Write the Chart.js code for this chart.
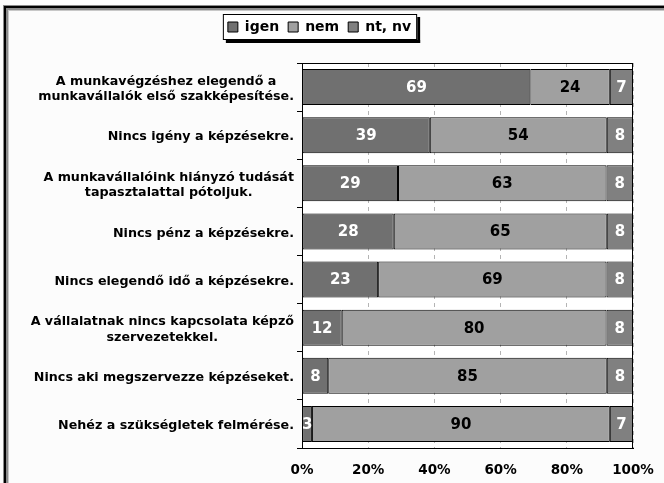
<!DOCTYPE html>
<html>
<head>
<meta charset="utf-8">
<script src="https://cdn.jsdelivr.net/npm/chart.js@4/dist/chart.umd.min.js"></script>
<style>
    body { margin: 0; background: #fcfcfc; }
    canvas { display: block; }
</style>
</head>
<body>
<canvas id="chart" width="664" height="483"></canvas>
<script>
const categories = [
    ['A munkavégzéshez elegendő a', 'munkavállalók első szakképesítése.'],
    ['Nincs igény a képzésekre.'],
    ['A munkavállalóink hiányzó tudását', 'tapasztalattal pótoljuk.'],
    ['Nincs pénz a képzésekre.'],
    ['Nincs elegendő idő a képzésekre.'],
    ['A vállalatnak nincs kapcsolata képző', 'szervezetekkel.'],
    ['Nincs aki megszervezze képzéseket.'],
    ['Nehéz a szükségletek felmérése.']
];
const igen = [69, 39, 29, 28, 23, 12, 8, 3];
const nem = [24, 54, 63, 65, 69, 80, 85, 90];
const ntNv = [7, 8, 8, 8, 8, 8, 8, 7];
const seriesNames = ['igen', 'nem', 'nt, nv'];
const xTickLabels = ['0%', '20%', '40%', '60%', '80%', '100%'];

const FONT = 'DejaVu Sans';

// 100% stacked: every row is scaled to its own total
function toPercent(values) {
    return values.map((v, i) => v / (igen[i] + nem[i] + ntNv[i]) * 100);
}

const rawValues = [igen, nem, ntNv];
const labelColors = ['#ffffff', '#000000', '#ffffff'];

// background, frame, plot area and legend box
const framePlugin = {
    id: 'frame',
    afterLayout(chart) {
        const lg = chart.legend;
        const shiftY = 27 - (lg.top + lg.options.labels.padding + 7);
        lg.top += shiftY;
        lg.bottom += shiftY;
        lg.left += 3;
        lg.right += 3;
    },
    beforeDraw(chart) {
        const ctx = chart.ctx;
        const a = chart.chartArea;
        ctx.save();
        ctx.fillStyle = '#fcfcfc';
        ctx.fillRect(0, 0, chart.width, chart.height);
        // outer frame (top and left only are in view)
        ctx.fillStyle = '#8a8a8a';
        ctx.fillRect(3, 5, chart.width, 5);
        ctx.fillRect(3, 5, 5, chart.height);
        ctx.fillStyle = '#000000';
        ctx.fillRect(4, 6, chart.width, 2);
        ctx.fillRect(4, 6, 2, chart.height);
        ctx.fillStyle = '#c8c8c8';
        ctx.fillRect(8, 10, chart.width, 1);
        ctx.fillRect(8, 10, 1, chart.height);

        ctx.fillStyle = '#ffffff';
        ctx.fillRect(a.left, a.top, a.right - a.left, a.bottom - a.top);

        // legend box
        const lg = chart.legend;
        const p = lg.options.labels.padding;
        const lw = lg.lineWidths[0] - p;
        const x0 = (lg.left + lg.right) / 2 - lw / 2 - 5;
        const x1 = (lg.left + lg.right) / 2 + lw / 2 + 6;
        const yc = lg.top + p + 7;
        const y0 = yc - 13, y1 = yc + 13;
        ctx.fillStyle = '#000000';
        ctx.fillRect(x0 + 3, y1, x1 - x0, 3);
        ctx.fillRect(x1, y0 + 3, 3, y1 - y0);
        ctx.fillStyle = '#ffffff';
        ctx.fillRect(x0, y0, x1 - x0, y1 - y0);
        ctx.strokeStyle = '#000000';
        ctx.lineWidth = 1;
        ctx.strokeRect(x0 + 0.5, y0 + 0.5, x1 - x0 - 1, y1 - y0 - 1);
        ctx.restore();
    },
    afterDatasetsDraw(chart) {
        const ctx = chart.ctx;
        const a = chart.chartArea;
        ctx.save();
        ctx.strokeStyle = '#000000';
        ctx.lineWidth = 1;
        ctx.strokeRect(Math.round(a.left) + 0.5, Math.round(a.top) + 0.5,
            Math.round(a.right - a.left) - 1, Math.round(a.bottom - a.top));

        // value labels
        ctx.font = 'bold 15px ' + FONT;
        ctx.textAlign = 'center';
        ctx.textBaseline = 'middle';
        chart.data.datasets.forEach((ds, d) => {
            const meta = chart.getDatasetMeta(d);
            meta.data.forEach((bar, i) => {
                ctx.fillStyle = labelColors[d];
                ctx.fillText(String(rawValues[d][i]), (bar.x + bar.base) / 2, bar.y + 1);
            });
        });

        // category labels: block right-aligned, lines centred inside it
        const y = chart.scales.y;
        ctx.font = 'bold 12.7px ' + FONT;
        ctx.fillStyle = '#000000';
        const right = a.left - 8;
        categories.forEach((lines, i) => {
            const widths = lines.map(t => ctx.measureText(t).width);
            const blockW = Math.max(...widths);
            const cy = y.getPixelForValue(i) + 2;
            lines.forEach((t, k) => {
                const ly = cy + (k - (lines.length - 1) / 2) * 15.5;
                ctx.fillText(t, right - blockW / 2, ly);
            });
        });
        ctx.restore();
    }
};

const ctx = document.getElementById('chart').getContext('2d');

const chart = new Chart(ctx, {
    type: 'bar',
    data: {
        labels: categories,
        datasets: [
            {
                label: seriesNames[0],
                data: toPercent(igen),
                backgroundColor: '#707070',
                borderColor: '#000000',
                borderWidth: 1,
                borderSkipped: false,
                barPercentage: 0.75,
                categoryPercentage: 1
            },
            {
                label: seriesNames[1],
                data: toPercent(nem),
                backgroundColor: '#a0a0a0',
                borderColor: '#000000',
                borderWidth: 1,
                borderSkipped: false,
                barPercentage: 0.75,
                categoryPercentage: 1
            },
            {
                label: seriesNames[2],
                data: toPercent(ntNv),
                backgroundColor: '#808080',
                borderColor: '#000000',
                borderWidth: 1,
                borderSkipped: false,
                barPercentage: 0.75,
                categoryPercentage: 1
            }
        ]
    },
    options: {
        indexAxis: 'y',
        responsive: false,
        animation: false,
        devicePixelRatio: 1,
        layout: {
            padding: { top: 30, right: 31, bottom: 0, left: 0 }
        },
        plugins: {
            legend: {
                position: 'top',
                labels: {
                    font: { family: FONT, size: 14, weight: 'bold' },
                    color: '#000000',
                    boxWidth: 10,
                    boxHeight: 10,
                    padding: 9
                }
            },
            tooltip: { enabled: false }
        },
        scales: {
            x: {
                stacked: true,
                min: 0,
                max: 100,
                grid: {
                    color: '#b4b4b4',
                    drawTicks: false
                },
                border: { color: '#000000', dash: [4, 4], display: true },
                ticks: {
                    stepSize: 20,
                    padding: 14,
                    color: '#000000',
                    font: { family: FONT, size: 13.5, weight: 'bold' },
                    callback: (v) => xTickLabels[v / 20]
                },
                afterFit: (scale) => {
                    scale.height = 35;
                    scale.paddingRight = 0;
                }
            },
            y: {
                stacked: true,
                grid: {
                    offset: true,
                    drawOnChartArea: false,
                    drawTicks: true,
                    tickLength: 5,
                    color: '#000000'
                },
                border: { color: '#000000' },
                ticks: { display: false },
                afterFit: (scale) => { scale.width = 302; }
            }
        }
    },
    plugins: [framePlugin]
});
</script>
</body>
</html>
